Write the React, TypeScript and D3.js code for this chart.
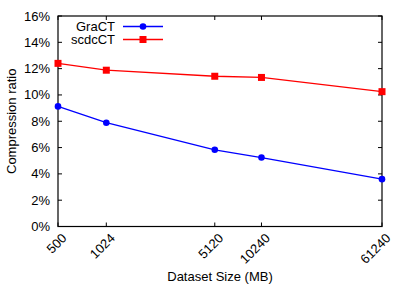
import React from "react";
import * as d3 from "d3";

const sizes = [500, 1024, 5120, 10240, 61240];
const xTickLabels = ["500", "1024", "5120", "10240", "61240"];
const gract = [9.13, 7.89, 5.83, 5.24, 3.6];
const scdcct = [12.4, 11.88, 11.42, 11.33, 10.25];
const yTicks = [0, 2, 4, 6, 8, 10, 12, 14, 16];
const seriesNames = ["GraCT", "scdcCT"];

const W = 407, H = 285;
const L = 58, R = 382, T = 16, B = 226.5;
const font = "'Liberation Sans', Arial, Helvetica, sans-serif";

export default function App() {
  const x = d3.scaleLog().domain([500, 61240]).range([L, R]);
  const y = d3.scaleLinear().domain([0, 16]).range([B, T]);
  const line = d3.line<number>().x((_, i) => x(sizes[i])).y((d) => y(d));
  const tl = 4;
  return (
    <svg width={W} height={H} style={{ position: "absolute", left: 0, top: 0 }} fontFamily={font}>
      <rect width={W} height={H} fill="white" />
      {yTicks.map((t) => (
        <g key={"y" + t}>
          <line x1={L} x2={L + tl} y1={y(t)} y2={y(t)} stroke="#000" strokeWidth={1} />
          <line x1={R} x2={R - tl} y1={y(t)} y2={y(t)} stroke="#000" strokeWidth={1} />
          <text x={L - 8} y={y(t)} dy="0.35em" textAnchor="end" fontSize={13}>{t}%</text>
        </g>
      ))}
      {sizes.map((s, i) => (
        <g key={"x" + s}>
          <line x1={x(s)} x2={x(s)} y1={B} y2={B - tl} stroke="#000" strokeWidth={1} />
          <line x1={x(s)} x2={x(s)} y1={T} y2={T + tl} stroke="#000" strokeWidth={1} />
          <text transform={`translate(${x(s) + 3},${B + 6}) rotate(-45)`} textAnchor="end" dy="0.7em" fontSize={13}>{xTickLabels[i]}</text>
        </g>
      ))}
      <rect x={L} y={T} width={R - L} height={B - T} fill="none" stroke="#000" strokeWidth={1.2} />
      <path d={line(gract) || ""} fill="none" stroke="#0000ff" strokeWidth={1.3} />
      <path d={line(scdcct) || ""} fill="none" stroke="#ff0000" strokeWidth={1.3} />
      {gract.map((v, i) => (
        <circle key={"g" + i} cx={x(sizes[i])} cy={y(v)} r={3.3} fill="#0000ff" />
      ))}
      {scdcct.map((v, i) => (
        <rect key={"s" + i} x={x(sizes[i]) - 3.5} y={y(v) - 3.5} width={7} height={7} fill="#ff0000" />
      ))}
      <g>
        <text x={115} y={26.5} dy="0.35em" textAnchor="end" fontSize={13}>{seriesNames[0]}</text>
        <line x1={123} x2={163} y1={26.5} y2={26.5} stroke="#0000ff" strokeWidth={1.3} />
        <circle cx={143} cy={26.5} r={3.3} fill="#0000ff" />
        <text x={115} y={39.5} dy="0.35em" textAnchor="end" fontSize={13}>{seriesNames[1]}</text>
        <line x1={123} x2={163} y1={39.5} y2={39.5} stroke="#ff0000" strokeWidth={1.3} />
        <rect x={139.5} y={36} width={7} height={7} fill="#ff0000" />
      </g>
      <text transform={`translate(11,${(T + B) / 2}) rotate(-90)`} textAnchor="middle" dy="0.35em" fontSize={13}>Compression ratio</text>
      <text x={(L + R) / 2} y={276} textAnchor="middle" dy="0.35em" fontSize={13}>Dataset Size (MB)</text>
    </svg>
  );
}
